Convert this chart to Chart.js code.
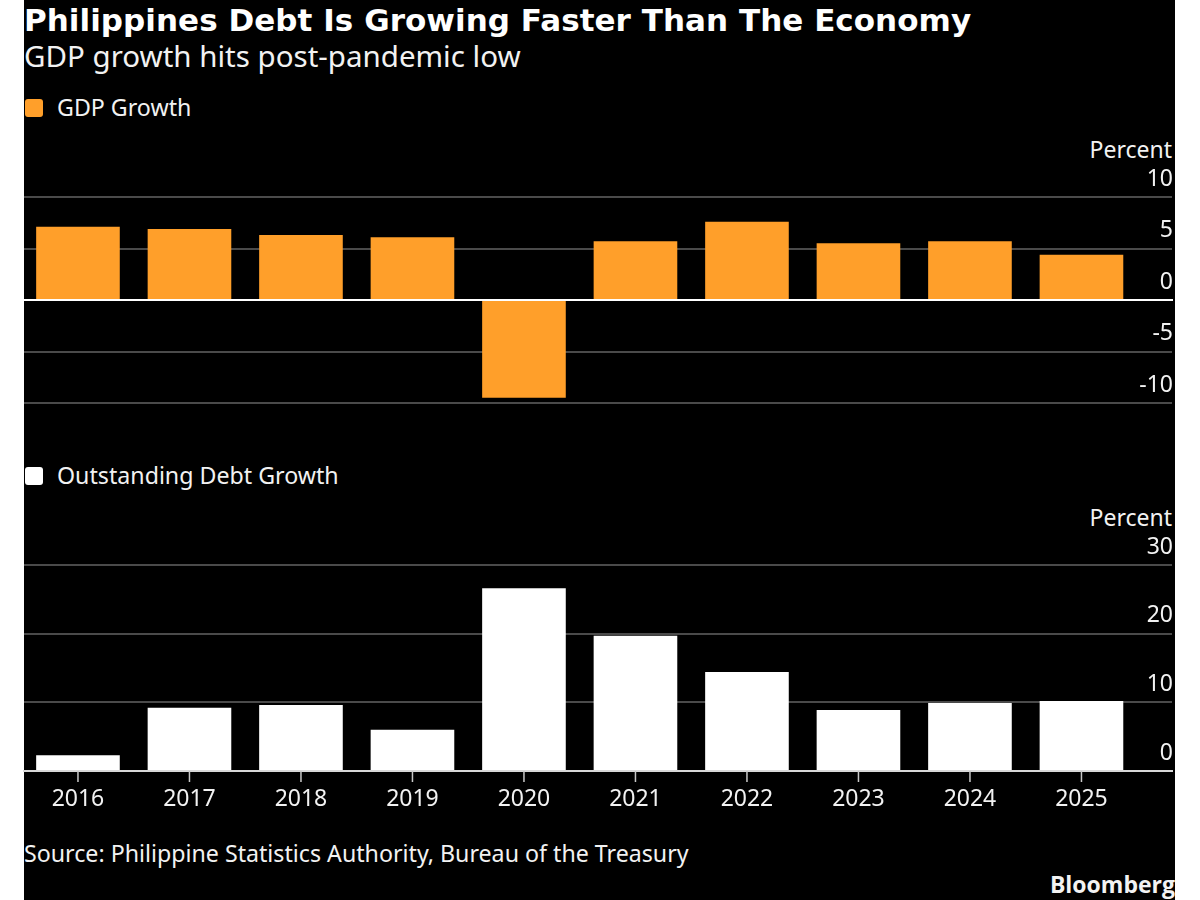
<!DOCTYPE html>
<html lang="en">
<head>
<meta charset="UTF-8">
<title>Philippines Debt Is Growing Faster Than The Economy</title>
<script src="https://cdn.jsdelivr.net/npm/chart.js"></script>
<style>
  html, body { margin: 0; background: #fff; }
  #page { position: relative; width: 1200px; height: 900px; overflow: hidden; font-family: "Noto Sans", sans-serif; color: #f2f2f2; }
  #black { position: absolute; left: 24px; width: 1151px; top: 0; height: 900px; background: #000; }
  canvas { position: absolute; left: 0; }
  .txt { position: absolute; white-space: nowrap; line-height: 1; }
  #title { left: 24px; top: 2px; font: bold 31px "DejaVu Sans", sans-serif; color: #fff; letter-spacing: 0.04px; }
  #sub { left: 24px; top: 41px; font-size: 29.5px; }
  .leg { left: 57px; font-size: 23.2px; }
  .swatch { position: absolute; left: 25px; width: 18px; height: 18px; border-radius: 3px; }
  .unit { right: 28px; font-size: 23px; }
  #source { left: 24px; top: 842px; font-size: 23.2px; }
  #brand { right: 25px; top: 868px; font: bold 23px "Open Sans", sans-serif; }
</style>
</head>
<body>
<div id="page">
  <div id="black"></div>
  <div class="txt" id="title">Philippines Debt Is Growing Faster Than The Economy</div>
  <div class="txt" id="sub">GDP growth hits post-pandemic low</div>

  <div class="swatch" style="top:99px;background:#ff9f2a"></div>
  <div class="txt leg" style="top:96px">GDP Growth</div>
  <div class="txt unit" style="top:138px">Percent</div>
  <canvas id="gdpChart" width="1200" height="260" style="top:160px"></canvas>

  <div class="swatch" style="top:467px;background:#fff"></div>
  <div class="txt leg" style="top:464px">Outstanding Debt Growth</div>
  <div class="txt unit" style="top:506px">Percent</div>
  <canvas id="debtChart" width="1200" height="290" style="top:530px"></canvas>

  <div class="txt" id="source">Source: Philippine Statistics Authority, Bureau of the Treasury</div>
  <div class="txt" id="brand">Bloomberg</div>
</div>

<script>
const years = ['2016', '2017', '2018', '2019', '2020', '2021', '2022', '2023', '2024', '2025'];
const gdpGrowth = [7.1, 6.9, 6.3, 6.1, -9.5, 5.7, 7.6, 5.5, 5.7, 4.4];
const debtGrowth = [2.3, 9.2, 9.6, 6.0, 26.6, 19.7, 14.4, 8.9, 9.9, 10.2];
const gdpTicks = [10, 5, 0, -5, -10];
const debtTicks = [30, 20, 10, 0];

const tickFont = { family: 'Noto Sans', size: 23 };
const textColor = '#f2f2f2';
const gridColor = '#4a4a4a';

// x is linear so the axis can run past the last bar, like the original
const xMin = -0.484;
const xMax = 9.812;

function onlyYears(scale) {
  scale.ticks = years.map((y, i) => ({ value: i }));
}

// short marks under the year axis, taken from the x scale
const yearMarks = {
  id: 'yearMarks',
  afterDraw(chart) {
    const ctx = chart.ctx;
    const x = chart.scales.x;
    ctx.save();
    ctx.strokeStyle = '#c8c8c8';
    ctx.lineWidth = 1.5;
    ctx.beginPath();
    years.forEach((y, i) => {
      const px = x.getPixelForValue(i);
      ctx.moveTo(px, chart.chartArea.bottom);
      ctx.lineTo(px, chart.chartArea.bottom + 11);
    });
    ctx.stroke();
    ctx.restore();
  }
};

function yScale(ticks) {
  return {
    position: 'right',
    min: ticks[ticks.length - 1],
    max: ticks[0],
    afterBuildTicks: scale => { scale.ticks = ticks.map(v => ({ value: v })); },
    afterFit: scale => { scale.width = 0; },
    grid: { color: gridColor, lineWidth: 2, drawTicks: false },
    border: { display: false },
    ticks: {
      mirror: true,
      padding: 1,
      color: textColor,
      font: tickFont,
      labelOffset: -18,
      callback: v => String(v)
    }
  };
}

function makeOptions(ticks, x, padding) {
  return {
    responsive: false,
    animation: false,
    layout: { padding: padding },
    plugins: { legend: { display: false }, tooltip: { enabled: false } },
    scales: { x: x, y: yScale(ticks) }
  };
}

function barData(label, values, color) {
  return {
    datasets: [{
      label: label,
      data: values.map((v, i) => ({ x: i, y: v })),
      backgroundColor: color,
      barPercentage: 0.75,
      categoryPercentage: 1
    }]
  };
}

new Chart(document.getElementById('gdpChart'), {
  type: 'bar',
  data: barData('GDP Growth', gdpGrowth, '#ff9f2a'),
  options: makeOptions(gdpTicks, {
    type: 'linear',
    offset: false,
    min: xMin,
    max: xMax,
    position: { y: 0 },
    afterBuildTicks: onlyYears,
    grid: { display: false, offset: false },
    ticks: { display: false },
    border: { display: true, color: '#ffffff', width: 2, z: 1 }
  }, { left: 24, right: 28, top: 37, bottom: 17 })
});

new Chart(document.getElementById('debtChart'), {
  type: 'bar',
  data: barData('Outstanding Debt Growth', debtGrowth, '#ffffff'),
  plugins: [yearMarks],
  options: makeOptions(debtTicks, {
    type: 'linear',
    offset: false,
    min: xMin,
    max: xMax,
    afterBuildTicks: onlyYears,
    afterFit: scale => { scale.height = 49; },
    grid: { offset: false, drawOnChartArea: false, drawTicks: false },
    border: { display: true, color: '#d8d8d8', width: 2, z: 1 },
    ticks: {
      color: textColor,
      font: tickFont,
      padding: 15,
      maxRotation: 0,
      autoSkip: false,
      callback: v => years[v]
    }
  }, { left: 24, right: 28, top: 35, bottom: 0 })
});
</script>
</body>
</html>
